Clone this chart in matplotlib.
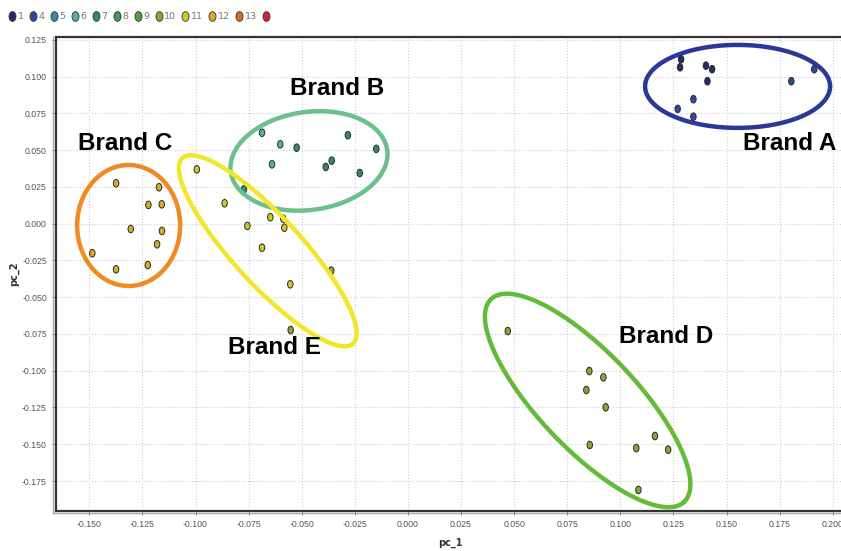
import numpy as np
import matplotlib
matplotlib.use('Agg')
import matplotlib.pyplot as plt
from matplotlib.path import Path
from matplotlib.lines import Line2D

# Data
brand_a_pc1 = [0.1286, 0.1281, 0.1403, 0.1432, 0.1410, 0.1344, 0.1270, 0.1344, 0.1805, 0.1913]
brand_a_pc2 = [0.1119, 0.1064, 0.1075, 0.1051, 0.0969, 0.0847, 0.0781, 0.0728, 0.0969, 0.1051]
brand_a_cat = ['1', '1', '1', '1', '1', '4', '4', '4', '4', '4']

brand_b_pc1 = [-0.0687, -0.0601, -0.0524, -0.0283, -0.0149, -0.0640, -0.0387, -0.0359, -0.0227, -0.0772]
brand_b_pc2 = [0.0619, 0.0540, 0.0517, 0.0602, 0.0509, 0.0404, 0.0386, 0.0429, 0.0345, 0.0234]
brand_b_cat = ['6', '6', '7', '7', '7', '6', '7', '7', '7', '7']

brand_c_pc1 = [-0.1374, -0.1172, -0.1222, -0.1159, -0.1305, -0.1158, -0.1181, -0.1486, -0.1225, -0.1374]
brand_c_pc2 = [0.0275, 0.0248, 0.0128, 0.0132, -0.0036, -0.0049, -0.0140, -0.0201, -0.0281, -0.0310]
brand_c_cat = ['12'] * 10

brand_d_pc1 = [0.0470, 0.0854, 0.0920, 0.0840, 0.0931, 0.0856, 0.1075, 0.1163, 0.1225, 0.1085]
brand_d_pc2 = [-0.0730, -0.1002, -0.1045, -0.1131, -0.1249, -0.1505, -0.1526, -0.1444, -0.1537, -0.1811]
brand_d_cat = ['10'] * 10

brand_e_pc1 = [-0.0994, -0.0863, -0.0648, -0.0587, -0.0582, -0.0756, -0.0687, -0.0361, -0.0554, -0.0552]
brand_e_pc2 = [0.0370, 0.0139, 0.0044, 0.0034, -0.0027, -0.0015, -0.0163, -0.0319, -0.0412, -0.0723]
brand_e_cat = ['11', '11', '11', '11', '11', '11', '11', '10', '11', '10']

legend_labels = ['1', '4', '5', '6', '7', '8', '9', '10', '11', '12', '13', '']
legend_colors = ['#262a6e', '#2d4a9a', '#2f8db0', '#55b0b0', '#2f8a72', '#3c9a55',
                 '#4ea040', '#86a832', '#cfc828', '#dcaa2a', '#d86a22', '#d42030']
cat_color = dict(zip(legend_labels, legend_colors))

brand_names = ['Brand A', 'Brand B', 'Brand C', 'Brand D', 'Brand E']
label_pos = [(0.1798, 0.0549), (-0.0334, 0.0923), (-0.1332, 0.0549), (0.1215, -0.0764), (-0.0626, -0.0839)]
# ellipse: centre (data), semi axes (px), angle (deg)
ell_center = [(0.1552, 0.0934), (-0.0466, 0.0427), (-0.1315, -0.0012), (0.0846, -0.1202), (-0.0660, -0.0184)]
ell_axes = [(92.5, 41.5), (79, 49), (51.5, 60.5), (140, 48.5), (126, 34)]
ell_angle = [0, 8, 0, -46.4, -47.4]
ell_color = ['#2b3896', '#6cc08c', '#f08a22', '#64bb3a', '#f2e62a']

# oval marker
circ = Path.unit_circle()
oval = Path(circ.vertices * np.array([0.72, 1.0]), circ.codes)

fig = plt.figure(figsize=(8.41, 5.51), dpi=100)
ax = fig.add_axes([56 / 841, 40 / 551, 788 / 841, 474 / 551])
ax.set_xlim(-0.1657, 0.2053)
ax.set_ylim(-0.1954, 0.1270)

ax.set_xticks(np.arange(-0.150, 0.2001, 0.025))
ax.set_yticks(np.arange(-0.175, 0.1251, 0.025))
ax.set_xticklabels(['%.3f' % (round(v, 3) + 0.0) for v in ax.get_xticks()])
ax.set_yticklabels(['%.3f' % (round(v, 3) + 0.0) for v in ax.get_yticks()])
ax.tick_params(labelsize=6.3, colors='#555555', length=3, width=0.6)
for lab in ax.get_xticklabels() + ax.get_yticklabels():
    lab.set_family(['Liberation Sans Narrow', 'Liberation Sans'])
ax.grid(True, color='#cfcfcf', linestyle=':', linewidth=0.8)
ax.set_axisbelow(True)
for sp in ax.spines.values():
    sp.set_color('#333333')
    sp.set_linewidth(1.6)

# light grey shadow frame just outside the axes
ax.plot([-0.0035, -0.0035], [-0.0045, 1.0], transform=ax.transAxes, color='#aaaaaa',
        linewidth=1.0, clip_on=False)
ax.plot([-0.0035, 1.0], [-0.0045, -0.0045], transform=ax.transAxes, color='#aaaaaa',
        linewidth=1.0, clip_on=False)

ax.set_xlabel('pc_1', fontsize=7, fontweight='bold', color='#333333', labelpad=6)
ax.set_ylabel('pc_2', fontsize=7, fontweight='bold', color='#333333', labelpad=2)

groups = [(brand_a_pc1, brand_a_pc2, brand_a_cat), (brand_b_pc1, brand_b_pc2, brand_b_cat),
          (brand_c_pc1, brand_c_pc2, brand_c_cat), (brand_d_pc1, brand_d_pc2, brand_d_cat),
          (brand_e_pc1, brand_e_pc2, brand_e_cat)]
for xs, ys, cats in groups:
    ax.scatter(xs, ys, s=30, marker=oval, c=[cat_color[c] for c in cats],
               edgecolors='#2a2a2a', linewidths=0.7, zorder=3)

# ellipses drawn in pixel space, converted back to data
bb = ax.get_window_extent()
kx = bb.width / (ax.get_xlim()[1] - ax.get_xlim()[0])
ky = bb.height / (ax.get_ylim()[1] - ax.get_ylim()[0])
t = np.linspace(0, 2 * np.pi, 300)
for (cx, cy), (a, b), ang, col in zip(ell_center, ell_axes, ell_angle, ell_color):
    phi = np.radians(ang)
    dx = a * np.cos(t) * np.cos(phi) - b * np.sin(t) * np.sin(phi)
    dy = a * np.cos(t) * np.sin(phi) + b * np.sin(t) * np.cos(phi)
    ax.plot(cx + dx / kx, cy + dy / ky, color=col, linewidth=3.2, zorder=4,
            solid_capstyle='round')

for name, (tx, ty) in zip(brand_names, label_pos):
    ax.text(tx, ty, name, fontsize=17.5, fontweight='bold', family='Liberation Sans',
            ha='center', va='center', color='black', zorder=5, clip_on=False)

handles = [Line2D([], [], linestyle='none', marker=oval, markersize=7,
                  markerfacecolor=c, markeredgecolor='#333333', markeredgewidth=0.6)
           for c in legend_colors]
leg = fig.legend(handles, legend_labels, loc='upper left', bbox_to_anchor=(0.002, 0.992),
                 ncol=len(legend_labels), frameon=False, fontsize=6.8,
                 handlelength=0.6, handletextpad=0.3, columnspacing=0.68,
                 borderaxespad=0.4)
for txt in leg.get_texts():
    txt.set_color('#777777')

fig.savefig('out.png', dpi=100)
